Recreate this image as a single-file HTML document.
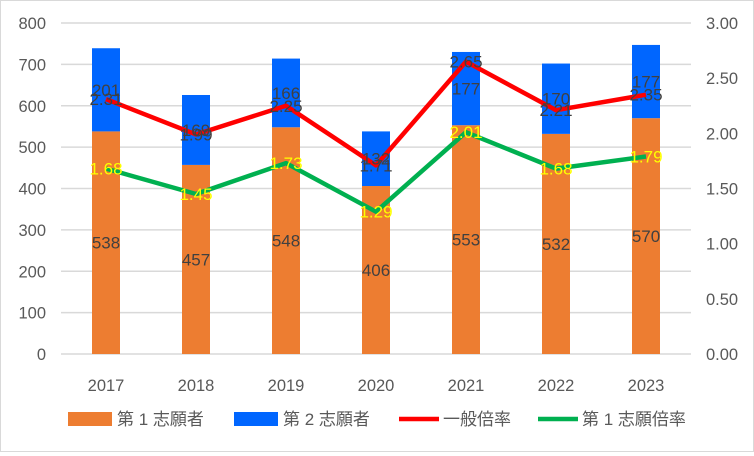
<!DOCTYPE html>
<html><head><meta charset="utf-8"><style>
html,body{margin:0;padding:0;background:#fff}
#c{position:relative;width:754px;height:452px;box-sizing:border-box;border:1px solid #d9d9d9;font-family:"Liberation Sans","Noto Sans CJK JP",sans-serif}
</style></head><body>
<div id="c">
<svg id="s" width="752" height="450" xmlns="http://www.w3.org/2000/svg"></svg>
</div>
<script>
const categories=["2017","2018","2019","2020","2021","2022","2023"];
const first=[538,457,548,406,553,532,570];
const second=[201,169,166,132,177,170,177];
const generalRate=[2.31,1.99,2.25,1.71,2.65,2.21,2.35];
const firstRate=[1.68,1.45,1.73,1.29,2.01,1.68,1.79];
const leftTicks=[0,100,200,300,400,500,600,700,800];
const rightTicks=[0,0.5,1,1.5,2,2.5,3];
const s=document.getElementById('s');const NS="http://www.w3.org/2000/svg";
const X0=60,X1=690,Y0=353,Y1=22;
const yL=v=>Y0-(v/800)*(Y0-Y1);
const yR=v=>Y0-(v/3)*(Y0-Y1);
const step=(X1-X0)/categories.length;
const xC=i=>X0+step*(i+0.5);
function el(t,a,txt){const e=document.createElementNS(NS,t);for(const k in a)e.setAttribute(k,a[k]);if(txt!=null)e.textContent=txt;s.appendChild(e);return e;}
leftTicks.forEach(v=>{
 const g=el('line',{x1:X0,x2:X1,y1:yL(v),y2:yL(v),stroke:'#d9d9d9','stroke-width':1.5});
 
 
 const t=el('text',{x:45,y:yL(v)+6,'text-anchor':'end','font-size':16.5,fill:'#595959'},v);
 
 
});
rightTicks.forEach(v=>{
 const t=el('text',{x:705,y:yR(v)+6,'font-size':16.5,fill:'#595959'},v.toFixed(2));
 
 
});
const bw=28;
categories.forEach((c,i)=>{
 const x=xC(i);
 const b1=el('rect',{x:x-bw/2,y:yL(first[i]),width:bw,height:Y0-yL(first[i]),fill:'#ed7d31'});
 
 
 const b2=el('rect',{x:x-bw/2,y:yL(first[i]+second[i]),width:bw,height:yL(first[i])-yL(first[i]+second[i]),fill:'#0066ff'});
 
 
 const t=el('text',{x:x,y:390,'text-anchor':'middle','font-size':16.5,fill:'#595959'},c);
 
 
});
function line(arr,col,name){
 const p=el('polyline',{points:arr.map((v,i)=>xC(i)+','+yR(v)).join(' '),fill:'none',stroke:col,'stroke-width':4.5,'stroke-linejoin':'round'});
 
 
}
line(generalRate,'#ff0000','line-general-rate');
line(firstRate,'#00b050','line-first-rate');
categories.forEach((c,i)=>{
 const x=xC(i);
 const a=el('text',{x:x,y:(yL(first[i])+Y0)/2+6,'text-anchor':'middle','font-size':17,fill:'#404040'},first[i]);
 
 
 const b=el('text',{x:x,y:(yL(first[i])+yL(first[i]+second[i]))/2+6,'text-anchor':'middle','font-size':17,fill:'#404040'},second[i]);
 
 
 const g=el('text',{x:x,y:yR(generalRate[i])+6,'text-anchor':'middle','font-size':17,fill:'#404040'},generalRate[i].toFixed(2));
 
 
 const f=el('text',{x:x,y:yR(firstRate[i])+6,'text-anchor':'middle','font-size':17,fill:'#ffff00'},firstRate[i].toFixed(2));
 
 
});
const legend=[['第 1 志願者','#ed7d31','box',67],['第 2 志願者','#0066ff','box',233],['一般倍率','#ff0000','line',398],['第 1 志願倍率','#00b050','line',537]];
legend.forEach(([n,col,k,x])=>{
 if(k==='box'){const r=el('rect',{x:x,y:411,width:44,height:14,fill:col});}
 else{const l=el('line',{x1:x,x2:x+40,y1:418,y2:418,stroke:col,'stroke-width':4.5});}
 const t=el('text',{x:k==='box'?x+49:x+44,y:424,'font-size':17,fill:'#595959'},n);
 
 
});
</script>
</body></html>
